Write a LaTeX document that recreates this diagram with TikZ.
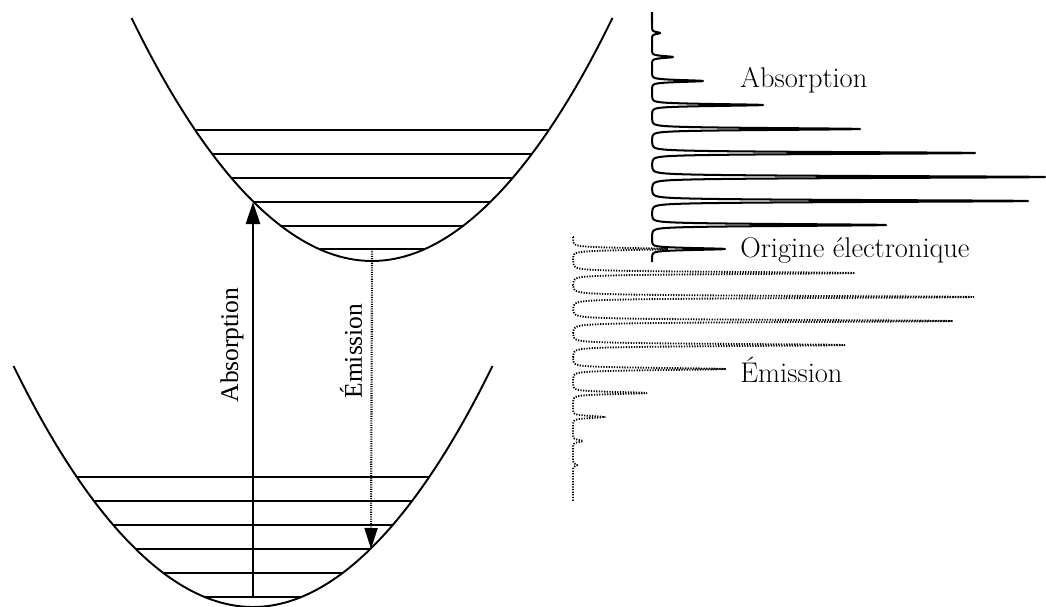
\documentclass[tikz,border=0pt]{standalone}
\usepackage{fontspec}
\newfontfamily\bandfont{Liberation Serif}
\usetikzlibrary{arrows.meta}
\tikzset{
  well/.style = {line width=1.1pt},
  vlevel/.style = {line width=1pt},
  absorb/.style = {
    line width=1.5pt,
    -{Triangle[length=4.4mm,width=2.8mm]}
  },
  emit/.style = {
    line width=1.2pt,
    dash pattern=on 0.6pt off 0.7pt,
    -{Triangle[length=4.2mm,width=2.6mm]}
  },
  absspec/.style = {line width=1.15pt, line join=round},
  emspec/.style = {line width=1.05pt, dash pattern=on 0.7pt off 0.8pt},
  bandlabel/.style = {
    font=\bandfont\fontsize{14.5}{17}\selectfont,
    rotate=90,
    inner sep=0pt
  },
  speclabel/.style = {
    font=\fontsize{16.2}{19}\selectfont,
    anchor=base west,
    inner sep=0pt
  }
}

\begin{document}
\begin{tikzpicture}[x=0.2mm, y=-0.2mm]
  \useasboundingbox (0,0) rectangle (1046,607);

  % excited state well with its vibrational levels
  \draw[well] (131.5,18) parabola bend (372,261) (612.5,18);
  \foreach \y in {130,154,178,202,226,249}
    \draw[vlevel] ({372-15.43*sqrt(261-\y)},\y) -- ({372+15.43*sqrt(261-\y)},\y);

  % ground state well
  \draw[well] (13.5,366) parabola bend (253,607) (492.5,366);
  \foreach \y in {477,501,525,549,573,597}
    \draw[vlevel] ({253-15.43*sqrt(607-\y)},\y) -- ({253+15.43*sqrt(607-\y)},\y);

  % transitions
  \coordinate (gvzero) at (253,597);
  \coordinate (evthree) at (253,202);
  \coordinate (evzero) at (372,249);
  \coordinate (gvtwo) at (371,549);
  \draw[absorb] (gvzero) -- (evthree);
  \draw[emit] (evzero) -- (gvtwo);
  \node[bandlabel] (abstext) at (232,345) {Absorption};
  \node[bandlabel] (emtext) at (351,351) {Émission};

  % absorption spectrum, one peak every 24 units
  \draw[absspec] (652,12) -- (652,21)
    foreach \a [count=\i from 0] in {8,21,51,111,208,323,393,376,234,73} {
      -- plot[variable=\t, domain=21+24*\i:45+24*\i, samples=97]
           ({652+\a/(1+((\t-33-24*\i)/1.7)^2)^2}, \t)
    } -- (652,262);

  % emission spectrum (mirror image, dotted)
  \draw[emspec] (573,237)
    foreach \a [count=\i from 0] in {95,282,401,380,272,153,74,30,10,4} {
      -- plot[variable=\t, domain=237+24*\i:261+24*\i, samples=97]
           ({573+\a/(1+((\t-249-24*\i)/1.9)^2)^2}, \t)
    } -- (573,502);

  \node[speclabel] (abslabel) at (740,87) {Absorption};
  \node[speclabel] (originlabel) at (740,257) {Origine électronique};
  \node[speclabel] (emlabel) at (740,382) {Émission};
\end{tikzpicture}
\end{document}
